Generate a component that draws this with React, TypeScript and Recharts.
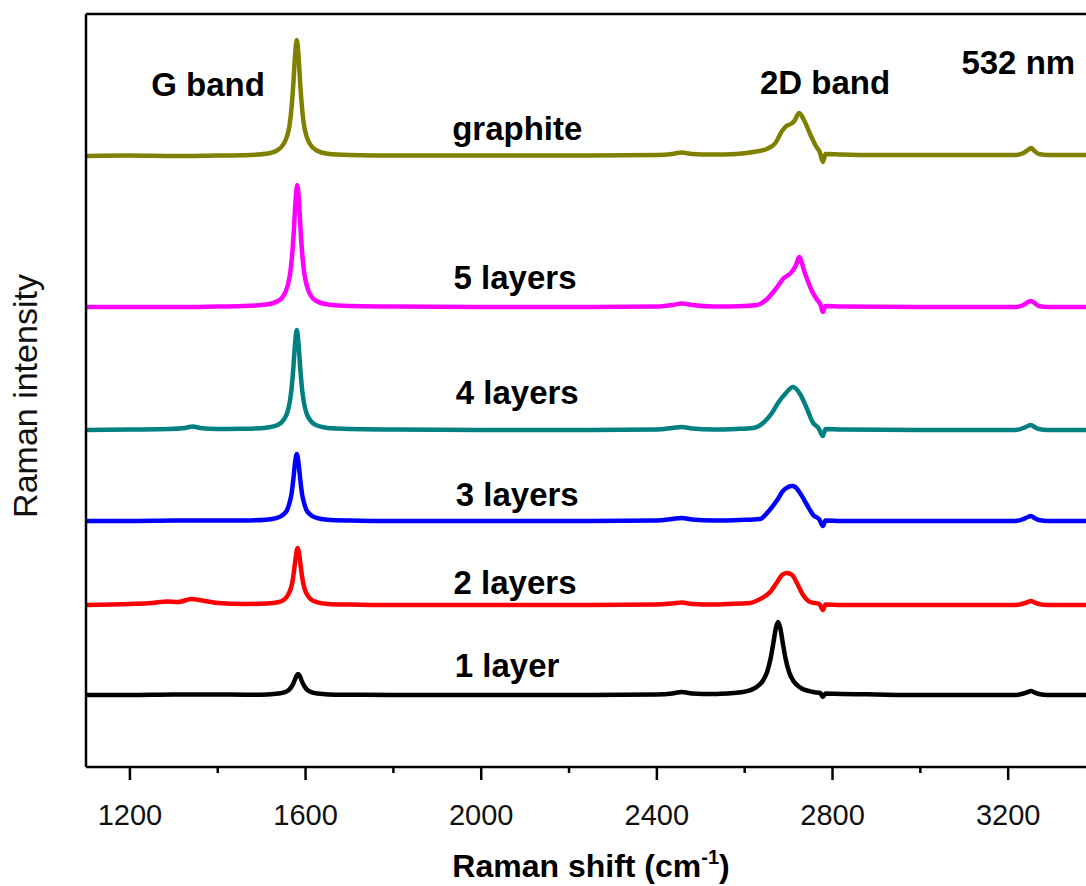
import { Line, LineChart, ReferenceDot, ReferenceLine, XAxis, YAxis } from 'recharts'

// Raman shift (cm-1) vs raw counts, one list per sample
const graphite = [
  [1100, 0], [1200, 0.5], [1300, 0], [1400, 0.5], [1460, 0.8], [1510, 2.3], [1535, 5.5], [1550, 12],
  [1558, 20], [1564, 32], [1568, 48], [1572, 71], [1576, 100], [1580, 116], [1584, 100], [1588, 71],
  [1592, 48], [1596, 32], [1602, 20], [1610, 12], [1625, 5.5], [1650, 2.3], [1700, 1], [1800, 0.5],
  [2000, 0.5], [2200, 0.5], [2400, 1], [2435, 2], [2457, 3.5], [2480, 2], [2530, 1.5], [2580, 2],
  [2620, 4], [2650, 7], [2670, 13], [2685, 25], [2695, 30], [2705, 32], [2713, 35], [2724, 43],
  [2736, 35], [2750, 21], [2762, 10], [2771, 4], [2778, -6], [2784, 2], [2820, 1.5], [2900, 1],
  [3100, 1], [3215, 1], [3235, 3], [3245, 6], [3252, 8], [3260, 5], [3270, 2], [3290, 1], [3400, 1],
]

const layers5 = [
  [1100, 0], [1200, 0], [1300, 0], [1400, 0.5], [1460, 0.9], [1511, 2.4], [1536, 5.7], [1551, 12],
  [1559, 21], [1565, 34], [1569, 50], [1573, 74], [1577, 105], [1581, 122], [1585, 105], [1589, 74],
  [1593, 50], [1597, 34], [1603, 21], [1611, 12], [1626, 5.7], [1651, 2.4], [1700, 1], [1800, 0.5],
  [2000, 0], [2200, 0], [2400, 0.5], [2435, 2], [2457, 3.5], [2480, 2], [2530, 0.5], [2600, 1],
  [2628, 2], [2651, 8], [2674, 20], [2687, 28], [2707, 35], [2717, 42], [2724, 50], [2737, 34],
  [2753, 16], [2767, 6], [2772, 3], [2778, -5], [2784, 1], [2820, 0.5], [3000, 0], [3215, 0],
  [3235, 2], [3245, 5], [3252, 6], [3260, 4], [3270, 1], [3290, 0], [3400, 0],
]

const layers4 = [
  [1100, 0], [1200, 0.5], [1290, 1], [1325, 2], [1343, 3.5], [1360, 2], [1400, 1], [1460, 1.2],
  [1510, 2.3], [1535, 4.7], [1550, 10], [1558, 17], [1564, 28], [1568, 41], [1572, 61], [1576, 86],
  [1580, 100], [1584, 86], [1588, 61], [1592, 41], [1596, 28], [1602, 17], [1610, 10], [1625, 4.7],
  [1650, 2], [1700, 1], [1800, 0.5], [2000, 0], [2200, 0], [2400, 0.5], [2435, 2], [2457, 3],
  [2480, 1.5], [2530, 0.5], [2580, 1], [2619, 2], [2642, 7], [2662, 17], [2676, 27], [2692, 36],
  [2710, 43], [2726, 36], [2742, 21], [2756, 7], [2768, 2], [2778, -6], [2784, 1], [2820, 0.5],
  [3000, 0], [3215, 0], [3235, 2], [3245, 4], [3252, 5], [3260, 3], [3270, 1], [3290, 0], [3400, 0],
]

const layers3 = [
  [1100, 0], [1200, 0], [1300, 0.5], [1400, 0.5], [1460, 0.5], [1510, 1.3], [1535, 3.1], [1550, 6.7],
  [1558, 11], [1564, 19], [1568, 27], [1572, 41], [1576, 58], [1580, 67], [1584, 58], [1588, 41],
  [1592, 27], [1596, 19], [1602, 11], [1610, 6.7], [1625, 3.1], [1650, 1.3], [1700, 0.5], [1800, 0],
  [2000, 0], [2200, 0], [2400, 0.5], [2435, 2], [2457, 3], [2480, 1.5], [2530, 0.5], [2590, 1],
  [2635, 2], [2653, 9], [2674, 21], [2687, 30], [2699, 34], [2708, 35], [2715, 34], [2726, 28],
  [2742, 16], [2756, 6], [2770, 1.5], [2778, -5], [2784, 0.5], [2820, 0], [3000, 0], [3215, 0],
  [3235, 2], [3245, 4], [3252, 5], [3260, 3], [3270, 1], [3290, 0], [3400, 0],
]

const layers2 = [
  [1100, 0], [1200, 1], [1250, 2], [1285, 3.5], [1310, 3], [1340, 6], [1365, 4.5], [1400, 2],
  [1462, 1], [1512, 1.5], [1537, 2.7], [1552, 5.7], [1560, 10], [1566, 16], [1570, 23], [1574, 35],
  [1578, 49], [1582, 57], [1586, 49], [1590, 35], [1594, 23], [1598, 16], [1604, 10], [1612, 5.7],
  [1627, 2.7], [1652, 1.1], [1700, 0.5], [1800, 0], [2000, 0], [2200, 0], [2400, 0.5], [2435, 1.5],
  [2457, 2.5], [2480, 1], [2530, 0.5], [2560, 1], [2612, 2], [2635, 6], [2658, 13], [2674, 23],
  [2685, 30], [2696, 32], [2708, 30], [2719, 22], [2733, 10], [2749, 3], [2770, 1], [2778, -5],
  [2784, 0.5], [2820, 0], [3000, 0], [3215, 0], [3235, 1.5], [3245, 3], [3252, 4], [3260, 2.5],
  [3270, 1], [3290, 0], [3400, 0],
]

const layer1 = [
  [1100, 0], [1200, 0], [1300, 0.5], [1400, 0.5], [1463, 0.3], [1513, 0.6], [1538, 1.4], [1553, 2.9],
  [1561, 4.8], [1567, 7.6], [1571, 10.5], [1575, 14.5], [1579, 18.9], [1583, 21], [1587, 18.9],
  [1591, 14.5], [1595, 10.5], [1599, 7.6], [1605, 4.8], [1613, 2.9], [1628, 1.4], [1653, 0.6],
  [1703, 0.3], [1800, 0], [2000, 0], [2200, 0], [2400, 0.5], [2435, 1.5], [2457, 3], [2480, 1.5],
  [2530, 1], [2546, 1.2], [2596, 3], [2626, 7.6], [2641, 14], [2651, 23], [2659, 36.5], [2666, 54],
  [2671, 67], [2676, 73], [2681, 67], [2686, 54], [2693, 36.5], [2701, 23], [2711, 14], [2726, 7.6],
  [2756, 3], [2772, 2], [2778, -2], [2784, 1.5], [2806, 1.2], [2900, 0.5], [3000, 0], [3215, 0],
  [3235, 1.5], [3245, 3], [3252, 4], [3260, 2.5], [3270, 1], [3290, 0], [3400, 0],
]

const sampleNames = ['graphite', '5 layers', '4 layers', '3 layers', '2 layers', '1 layer']
const sampleSpectra = [graphite, layers5, layers4, layers3, layers2, layer1]
const sampleOffsets = [611, 460, 337, 246, 162, 72]
const sampleColors = ['#808000', '#ff00ff', '#008080', '#0000ff', '#ff0000', '#000000']
// where each sample name sits (shift, intensity)
const sampleLabelPos = [
  [2082, 639], [2077, 490], [2082, 375], [2082, 273], [2077, 185], [2059, 102],
]

const bandNotes = ['G band', '2D band', '532 nm']
const bandNotePos = [[1378, 683], [2783, 685], [3223, 705]]

const majorTicks = [1200, 1600, 2000, 2400, 2800, 3200]
const allTicks = [1200, 1400, 1600, 1800, 2000, 2200, 2400, 2600, 2800, 3000, 3200]

const FONT = '"Liberation Sans", Arial, Helvetica, sans-serif'

const ShiftTick = ({ x, y, payload }: any) => {
  const major = majorTicks.includes(payload.value)
  return (
    <g>
      <line x1={x} x2={x} y1={y} y2={y + (major ? 13 : 6)} stroke="#000" strokeWidth={2.5} />
      {major && (
        <text x={x} y={y + 58} textAnchor="middle" fontSize={29} fill="#111">
          {payload.value}
        </text>
      )}
    </g>
  )
}

const XTitle = ({ viewBox }: any) => (
  <text
    x={viewBox.x + viewBox.width / 2}
    y={viewBox.y + 110}
    textAnchor="middle"
    fontSize={32}
    fontWeight="bold"
    fill="#000"
  >
    Raman shift (cm
    <tspan dy={-13} fontSize={20}>-1</tspan>
    <tspan dy={13}>)</tspan>
  </text>
)

const YTitle = () => (
  <text x={37} y={396} transform="rotate(-90, 37, 396)" textAnchor="middle" fontSize={34} fill="#111">
    Raman intensity
  </text>
)

const App = () => {
  const series = sampleSpectra.map((spec, i) =>
    spec.map(([x, y]) => ({ x, y: y + sampleOffsets[i] }))
  )

  return (
    <div
      style={{
        position: 'absolute',
        left: 0,
        top: 0,
        width: 1086,
        height: 886,
        overflow: 'hidden',
        background: '#fff',
        fontFamily: FONT,
      }}
    >
      <LineChart width={1100} height={886} margin={{ top: 14, right: 4, left: 0, bottom: 0 }}>
        <XAxis
          dataKey="x"
          type="number"
          domain={[1100, 3400]}
          ticks={allTicks}
          interval={0}
          allowDataOverflow
          height={119}
          tickSize={0}
          tickMargin={0}
          tickLine={false}
          tick={<ShiftTick />}
          axisLine={{ stroke: '#000', strokeWidth: 2.5 }}
          label={{ content: <XTitle /> }}
        />
        <YAxis
          type="number"
          domain={[0, 753]}
          allowDataOverflow
          width={86}
          tick={false}
          tickLine={false}
          axisLine={{ stroke: '#000', strokeWidth: 2.5 }}
          label={{ content: <YTitle /> }}
        />
        <ReferenceLine y={753} stroke="#000" strokeWidth={2.5} />
        <ReferenceLine x={3400} stroke="#000" strokeWidth={2.5} />

        {series.map((pts, i) => (
          <Line
            key={sampleNames[i]}
            data={pts}
            dataKey="y"
            type="monotone"
            stroke={sampleColors[i]}
            strokeWidth={4.5}
            strokeLinejoin="round"
            dot={false}
            activeDot={false}
            isAnimationActive={false}
          />
        ))}

        {sampleNames.map((name, i) => (
          <ReferenceDot
            key={'lbl-' + name}
            x={sampleLabelPos[i][0]}
            y={sampleLabelPos[i][1]}
            r={0}
            fill="none"
            stroke="none"
            label={{ value: name, position: 'center', fontSize: 33, fontWeight: 'bold', fill: '#000' }}
          />
        ))}
        {bandNotes.map((note, i) => (
          <ReferenceDot
            key={'note-' + note}
            x={bandNotePos[i][0]}
            y={bandNotePos[i][1]}
            r={0}
            fill="none"
            stroke="none"
            label={{ value: note, position: 'center', fontSize: 33, fontWeight: 'bold', fill: '#000' }}
          />
        ))}
      </LineChart>
    </div>
  )
}

export default App
